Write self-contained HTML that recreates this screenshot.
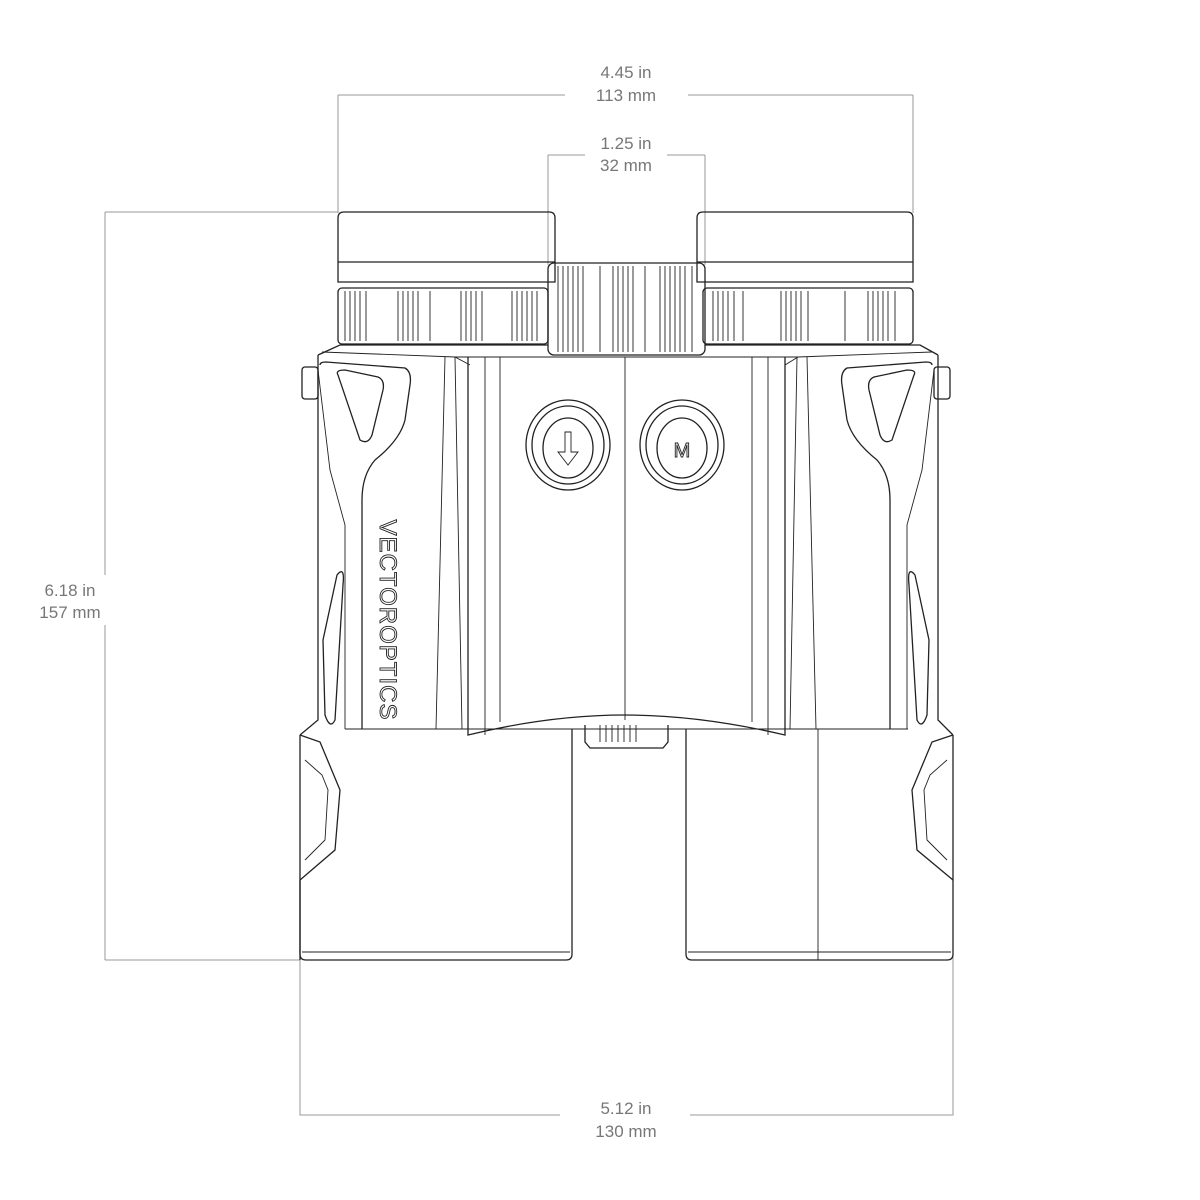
<!DOCTYPE html>
<html><head><meta charset="utf-8"><style>
html,body{margin:0;padding:0;background:#fff;}
svg{display:block;}
text{font-family:"Liberation Sans",sans-serif;font-size:17px;fill:#777;text-anchor:middle;}
.d{stroke:#999;stroke-width:1;fill:none;}
.k{stroke:#222;stroke-width:1.3;fill:none;}
.t{stroke:#222;stroke-width:0.9;fill:none;}
</style></head><body>
<svg width="1200" height="1200" viewBox="0 0 1200 1200">
<!-- dimensions -->
<path class="d" d="M338 95H565M688 95H913M338 95V213M913 95V213"/>
<text x="626" y="78">4.45 in</text><text x="626" y="101">113 mm</text>
<path class="d" d="M548 155H585M667 155H705M548 155V265M705 155V265"/>
<text x="626" y="149">1.25 in</text><text x="626" y="171">32 mm</text>
<path class="d" d="M105 212H338M105 960H300M105 212V575M105 625V960"/>
<text x="70" y="596">6.18 in</text><text x="70" y="618">157 mm</text>
<path class="d" d="M300 960V1115H560M690 1115H953V880"/>
<text x="626" y="1114">5.12 in</text><text x="626" y="1137">130 mm</text>

<!-- eyecups -->
<path class="k" d="M338 282V218Q338 212 344 212H549Q555 212 555 218V282Z M338 262H555"/>
<path class="k" d="M697 282V218Q697 212 703 212H907Q913 212 913 218V282Z M697 262H913"/>
<!-- focus rings -->
<rect class="k" x="338" y="288" width="210" height="56" rx="4"/>
<rect class="k" x="703" y="288" width="210" height="56" rx="4"/>
<g class="t">
<path d="M345 291V341M350 291V341M355 291V341M360 291V341M366 291V341M398 291V341M403 291V341M408 291V341M413 291V341M418 291V341M430 291V341M461 291V341M466 291V341M471 291V341M476 291V341M482 291V341M512 291V341M517 291V341M522 291V341M527 291V341M532 291V341M537 291V341"/>
<path d="M713 291V341M718 291V341M723 291V341M728 291V341M734 291V341M743 291V341M781 291V341M786 291V341M791 291V341M796 291V341M801 291V341M808 291V341M845 291V341M868 291V341M873 291V341M878 291V341M883 291V341M888 291V341M895 291V341"/>
</g>
<!-- center wheel -->
<rect class="k" x="548" y="263" width="157" height="92" rx="6"/>
<g class="t"><path d="M558 266V352M563 266V352M568 266V352M573 266V352M578 266V352M583 266V352M600 266V352M613 266V352M618 266V352M623 266V352M628 266V352M633 266V352M645 266V352M660 266V352M665 266V352M670 266V352M675 266V352M680 266V352M685 266V352M692 266V352"/></g>

<!-- body -->
<path class="k" d="M318 355L340 345H548M705 345H920L938 355 M318 355V720L300 735 M938 355V720L953 735"/>
<path class="t" d="M322 352L455 357L470 365 M932 352L798 357L785 365 M455 357H798"/>
<!-- lugs -->
<rect class="k" x="302" y="367" width="16" height="32" rx="3"/>
<rect class="k" x="934" y="367" width="16" height="32" rx="3"/>
<!-- left armor -->
<path class="k" d="M320 365Q320 362 326 362L405 368Q412 372 410 385L405 420Q400 440 375 460Q362 475 362 500V729"/>
<path class="t" d="M318 370L330 470L345 525V729 M445 357L436 729 M455 357L462 729"/>
<path class="k" d="M338 375Q335 370 345 370L378 377Q385 380 383 390L372 435Q368 445 360 440Z"/>
<path class="k" d="M337 575Q345 565 343 585L335 720Q330 730 325 715L323 640Z"/>
<path class="k" d="M300 735L320 742L340 790L335 850L300 880 M300 880V960"/>
<path class="t" d="M305 760L322 775L328 790L325 840L305 860"/>
<!-- right armor -->
<path class="k" d="M932 365Q932 362 926 362L847 368Q840 372 842 385L847 420Q852 440 877 460Q890 475 890 500V729"/>
<path class="t" d="M934 370L922 470L907 525V729 M807 357L816 729 M797 357L790 729"/>
<path class="k" d="M914 375Q917 370 907 370L874 377Q867 380 869 390L880 435Q884 445 892 440Z"/>
<path class="k" d="M915 575Q907 565 909 585L917 720Q922 730 927 715L929 640Z"/>
<path class="k" d="M953 735L932 742L912 790L917 850L953 880"/>
<path class="t" d="M947 760L930 775L924 790L927 840L947 860"/>
<!-- center bridge -->
<path class="k" d="M468 357V735Q550 715 625 715Q700 715 785 735V357"/>
<path class="t" d="M485 357V735M500 357V722M625 357V720M752 357V722M768 357V735"/>
<!-- buttons -->
<g class="k">
<ellipse cx="568" cy="445" rx="42" ry="45"/><ellipse cx="568" cy="445" rx="36" ry="39"/><ellipse cx="568" cy="448" rx="25" ry="30"/>
<ellipse cx="682" cy="445" rx="42" ry="45"/><ellipse cx="682" cy="445" rx="36" ry="39"/><ellipse cx="682" cy="448" rx="25" ry="30"/>
</g>
<path class="t" d="M565 432V452H558L568 465L578 452H571V432Z"/>
<text x="682" y="457" style="font-size:20px;fill:none;stroke:#222;stroke-width:0.9">M</text>
<!-- logo -->
<text transform="translate(380,620) rotate(90)" x="0" y="0" style="font-size:24px;fill:none;stroke:#222;stroke-width:0.9;letter-spacing:1px">VECTOROPTICS</text>
<!-- lower barrels -->
<path class="k" d="M300 735V954Q300 960 306 960H566Q572 960 572 954V729"/>
<path class="k" d="M686 729V954Q686 960 692 960H947Q953 960 953 954V735"/>
<path class="t" d="M302 952H570M688 952H951M818 729V960M345 729H908"/>
<!-- bottom wheel -->
<path class="k" d="M585 725V742L590 748H663L668 742V725"/>
<path class="t" d="M600 725V742M606 725V742M612 725V742M618 725V742M624 725V742M630 725V742M636 725V742"/>
</svg>
</body></html>
